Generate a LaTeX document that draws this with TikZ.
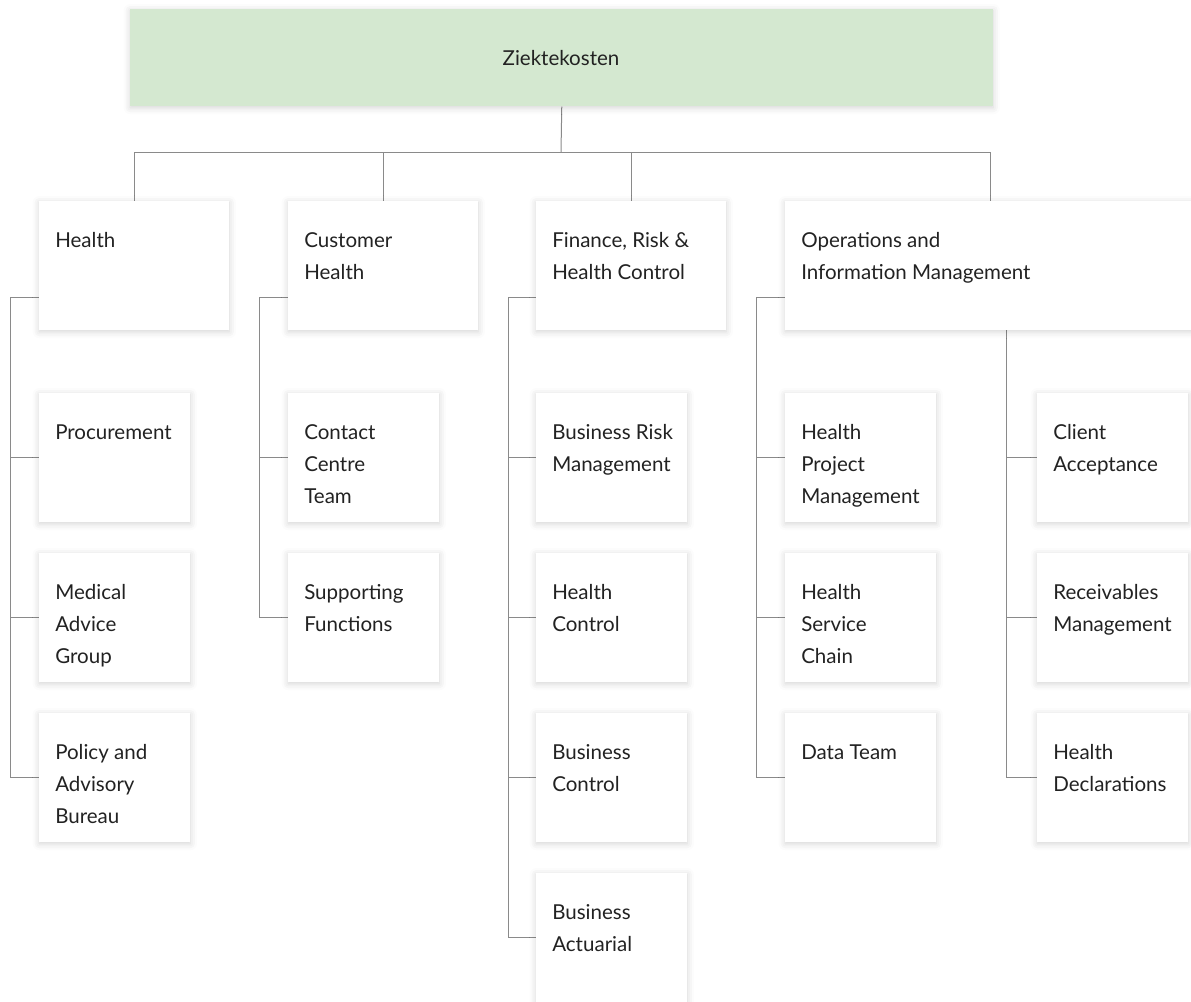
\documentclass[tikz,border=0pt]{standalone}
\usepackage{fontspec}
\setmainfont{Lato}
\usetikzlibrary{shadows.blur,backgrounds}
\definecolor{topgreen}{HTML}{D4E8D0}
\definecolor{linegray}{HTML}{8A8A8A}
\definecolor{txt}{HTML}{222222}
\tikzset{
  boxbase/.style={draw=none, inner sep=0pt, anchor=north west,
    blur shadow={shadow xshift=0pt, shadow yshift=-1pt, shadow blur radius=5pt, shadow opacity=18}},
  wbox/.style={boxbase, fill=white},
  gbox/.style={boxbase, fill=topgreen},
  lbl/.style={anchor=base west, inner sep=0pt, align=left, text=txt,
    font=\fontsize{15.4}{24}\selectfont},
  conn/.style={draw=linegray, line width=0.75pt},
}
\begin{document}
\begin{tikzpicture}[x=0.75pt,y=-0.75pt]
\useasboundingbox (0,0) rectangle (1191,1001);
\clip (0,0) rectangle (1191,1001);
% top
\node[gbox, minimum width=863*0.75pt, minimum height=97*0.75pt] (top) at (130,9) {};
\node[anchor=base, inner sep=0pt, text=txt, font=\fontsize{15.4}{24}\selectfont] (toplbl) at (561,65) {Ziektekosten};
% level 1
\node[wbox, minimum width=190*0.75pt, minimum height=129*0.75pt] (health) at (39,201) {};
\node[wbox, minimum width=190*0.75pt, minimum height=129*0.75pt] (cust) at (288,201) {};
\node[wbox, minimum width=190*0.75pt, minimum height=129*0.75pt] (fin) at (536,201) {};
\node[wbox, minimum width=410*0.75pt, minimum height=129*0.75pt] (ops) at (785,201) {};
% level 2
\tikzset{sbox/.style={wbox, minimum width=151*0.75pt, minimum height=129*0.75pt}}
\node[sbox] (proc) at (39,393) {};
\node[sbox] (med) at (39,553) {};
\node[sbox] (pol) at (39,713) {};
\node[sbox] (cct) at (288,393) {};
\node[sbox] (sup) at (288,553) {};
\node[sbox] (brm) at (536,393) {};
\node[sbox] (hc) at (536,553) {};
\node[sbox] (bc) at (536,713) {};
\node[sbox] (ba) at (536,873) {};
\node[sbox] (hpm) at (785,393) {};
\node[sbox] (hsc) at (785,553) {};
\node[sbox] (dt) at (785,713) {};
\node[sbox] (ca) at (1037,393) {};
\node[sbox] (rm) at (1037,553) {};
\node[sbox] (hd) at (1037,713) {};
% labels (position = baseline of last line; line pitch 32px)
\node[lbl] (t1) at (55,247) {Health};
\node[lbl] (t2) at (304,279) {Customer\\Health};
\node[lbl] (t3) at (552,279) {Finance, Risk \&\\Health Control};
\node[lbl] (t4) at (801,279) {Operations and\\Information Management};
\node[lbl] (t5) at (55,439) {Procurement};
\node[lbl] (t6) at (55,663) {Medical\\Advice\\Group};
\node[lbl] (t7) at (55,823) {Policy and\\Advisory\\Bureau};
\node[lbl] (t8) at (304,503) {Contact\\Centre\\Team};
\node[lbl] (t9) at (304,631) {Supporting\\Functions};
\node[lbl] (t10) at (552,471) {Business Risk\\Management};
\node[lbl] (t11) at (552,631) {Health\\Control};
\node[lbl] (t12) at (552,791) {Business\\Control};
\node[lbl] (t13) at (552,951) {Business\\Actuarial};
\node[lbl] (t14) at (801,503) {Health\\Project\\Management};
\node[lbl] (t15) at (801,663) {Health\\Service\\Chain};
\node[lbl] (t16) at (801,759) {Data Team};
\node[lbl] (t17) at (1053,471) {Client\\Acceptance};
\node[lbl] (t18) at (1053,631) {Receivables\\Management};
\node[lbl] (t19) at (1053,791) {Health\\Declarations};
% connectors
\coordinate (bus) at (561,152);
\coordinate (hs) at (10,297);
\coordinate (cs) at (259,297);
\coordinate (fs) at (508,297);
\coordinate (os) at (756,297);
\coordinate (os2) at (1006,330);
\begin{scope}[on background layer]
\draw[conn] (top.south) -- (bus);
\draw[conn] (bus) -| (health.north);
\draw[conn] (bus) -| (cust.north);
\draw[conn] (bus) -| (fin.north);
\draw[conn] (bus) -| (ops.north);
\draw[conn] (health.west |- hs) -- (hs) |- (pol.west);
\draw[conn] (hs) |- (proc.west);
\draw[conn] (hs) |- (med.west);
\draw[conn] (cust.west |- cs) -- (cs) |- (sup.west);
\draw[conn] (cs) |- (cct.west);
\draw[conn] (fin.west |- fs) -- (fs) |- (ba.west);
\draw[conn] (fs) |- (brm.west);
\draw[conn] (fs) |- (hc.west);
\draw[conn] (fs) |- (bc.west);
\draw[conn] (ops.west |- os) -- (os) |- (dt.west);
\draw[conn] (os) |- (hpm.west);
\draw[conn] (os) |- (hsc.west);
\draw[conn] (os2) |- (hd.west);
\draw[conn] (os2) |- (ca.west);
\draw[conn] (os2) |- (rm.west);
\end{scope}
\end{tikzpicture}
\end{document}
